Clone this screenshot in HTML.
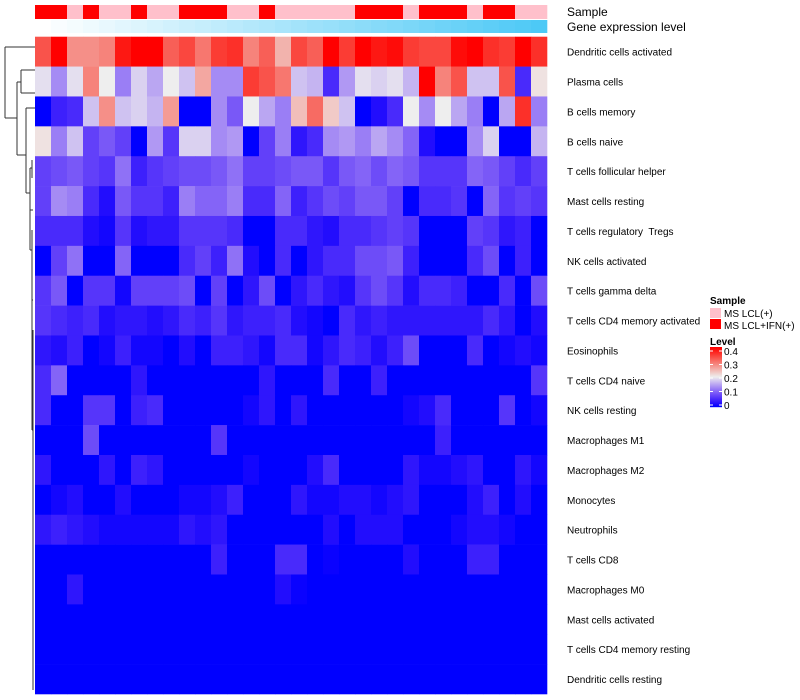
<!DOCTYPE html>
<html><head><meta charset="utf-8"><style>
html,body{margin:0;padding:0;background:#fff;}
svg{display:block;font-family:"Liberation Sans",sans-serif;}
</style></head><body>
<svg id="chart" width="800" height="700"></svg>
<script>
const rowNames = ["Dendritic cells activated","Plasma cells","B cells memory","B cells naive","T cells follicular helper","Mast cells resting","T cells regulatory\u00A0 Tregs","NK cells activated","T cells gamma delta","T cells CD4 memory activated","Eosinophils","T cells CD4 naive","NK cells resting","Macrophages M1","Macrophages M2","Monocytes","Neutrophils","T cells CD8","Macrophages M0","Mast cells activated","T cells CD4 memory resting","Dendritic cells resting"];
const sampleGroups = "RRPRPPRPPRRRPPRPPPPPRRRPRRRPRRPP".split("");
const values = [
[33,40,28,28,29,38,40,40,32,34,30,35,36,29,32,25,34,32,40,35,40,38,39,35,34,34,39,40,36,35,40,36],
[19,13,19,29,20,12,18,15,20,17,26,13,13,35,33,30,17,16,5,14,19,18,19,16,40,29,33,17,17,33,5,21],
[0,4,5,17,28,17,18,16,27,0,0,13,9,20,15,12,24,31,23,17,0,2,5,20,13,20,15,12,0,15,36,12],
[21,12,17,7,9,7,0,14,6,18,18,13,14,0,7,12,3,5,13,14,12,15,13,10,2,0,0,13,18,0,0,16],
[7,8,9,7,6,11,4,6,7,8,8,9,11,7,7,8,9,9,6,9,10,8,10,9,6,6,6,10,9,7,5,7],
[7,13,12,5,2,9,6,6,4,12,10,10,12,5,5,10,4,6,8,7,9,9,7,0,5,5,6,0,10,6,7,6],
[5,5,5,2,1,6,2,3,3,6,6,6,5,0,0,5,5,3,2,5,5,6,7,6,0,0,0,7,6,3,4,0],
[0,7,11,0,0,10,0,0,0,5,7,4,11,2,0,5,0,3,5,5,8,8,9,4,0,0,0,5,8,0,4,0],
[6,9,0,6,6,1,7,7,7,8,0,7,0,3,8,0,3,5,3,2,6,8,6,2,5,5,4,0,0,5,0,8],
[6,5,4,5,2,3,3,2,3,5,4,6,3,4,4,5,2,1,0,5,3,4,3,3,3,3,3,3,5,3,0,2],
[3,2,4,0,1,4,1,1,0,2,0,4,4,3,1,5,5,1,3,5,4,2,4,8,0,0,0,5,0,1,2,1],
[5,10,0,0,0,0,3,0,0,0,0,0,0,0,3,0,0,0,5,0,0,4,0,0,0,0,0,0,0,0,0,6],
[5,0,0,6,6,0,4,5,0,0,0,0,0,1,3,0,3,0,0,0,0,0,0,1,2,5,0,0,0,6,0,1],
[0,0,0,8,0,0,0,0,0,0,0,6,0,0,0,0,0,0,0,0,0,0,0,0,0,4,0,0,0,0,0,0],
[3,0,0,0,3,0,4,3,0,0,0,0,0,1,0,0,0,2,5,0,0,0,0,3,1,1,2,3,0,0,3,1],
[0,1,2,0,0,2,0,0,0,1,1,2,4,0,0,0,3,1,1,2,2,1,2,3,0,0,0,2,4,0,2,0],
[3,4,3,2,1,1,1,1,1,3,2,3,0,0,0,0,0,0,2,0,2,2,2,0,0,0,1,2,2,1,0,0],
[0,0,0,0,0,0,0,0,0,0,0,4,0,0,0,5,5,0,0.5,0,0,0,0,2,0,0,0,4,4,0,0,0],
[0,0,3,0,0,0,0,0,0,0,0,0,0,0,0,2,0.5,0,0,0,0,0,0,0,0,0,0,0,0,0,0,0],
[0,0,0,0,0,0,0,0,0,0,0,0,0,0,0,0,0,0,0,0,0,0,0,0,0,0,0,0,0,0,0,0],
[0,0,0,0,0,0,0,0,0,0,0,0,0,0,0,0,0,0,0,0,0,0,0,0,0,0,0,0,0,0,0,0],
[0,0,0,0,0,0,0,0,0,0,0,0,0,0,0,0,0,0,0,0,0,0,0,0,0,0,0,0,0,0,0,0]
];
const legendTicks = ["0","0.1","0.2","0.3","0.4"];

const NS="http://www.w3.org/2000/svg";
const svg=document.getElementById('chart');
function mk(tag,attrs,parent){const e=document.createElementNS(NS,tag);for(const k in attrs)e.setAttribute(k,attrs[k]);(parent||svg).appendChild(e);return e;}
const X0=35,X1=547,Y0=36.7,Y1=694;
const nCol=values[0].length,nRow=values.length;
const cw=(X1-X0)/nCol, rh=(Y1-Y0)/nRow;
const xPos=i=>X0+i*cw, yPos=j=>Y0+j*rh;
function color(v){ // v in hundredths, 0..40
  const t=Math.max(0,Math.min(1,v/40));
  let r,g,b;
  if(t<0.5){const s=t/0.5;r=238*Math.pow(s,0.85);g=238*Math.pow(s,1.25);b=255-17*s;}
  else{const s=(t-0.5)/0.5;r=238+17*s;g=238*(1-s);b=238*Math.pow(1-s,1.1);}
  return `rgb(${Math.round(r)},${Math.round(g)},${Math.round(b)})`;
}
const sampleColors={R:"#ff0000",P:"#ffc0cb"};
sampleGroups.forEach((s,i)=>{
  const r=mk('rect',{x:xPos(i),y:5,width:cw+0.3,height:14,fill:sampleColors[s]});
  
  
});
for(let i=0;i<nCol;i++){
  const t=i/(nCol-1);
  const c=`rgb(${Math.round(255-178*t)},${Math.round(255-54*t)},${Math.round(255-9*t)})`;
  const r=mk('rect',{x:xPos(i),y:20,width:cw+0.3,height:13,fill:c});
  
  
}
mk('text',{x:567,y:16,'font-size':12},svg).textContent="Sample";
mk('text',{x:567,y:31,'font-size':12},svg).textContent="Gene expression level";
values.forEach((row,j)=>row.forEach((v,i)=>{
  const r=mk('rect',{x:xPos(i),y:yPos(j),width:cw+0.3,height:rh+0.3,fill:color(v)});
  
  
}));
rowNames.forEach((n,j)=>{
  const t=mk('text',{x:567,y:yPos(j)+rh/2+4,'font-size':10});
  t.textContent=n;
  
  
});
const dg=mk('g',{stroke:'#333','stroke-width':1,fill:'none'});


const lines=[
 [5,47,5,118],[5,47,35,47],[5,118,17,118],
 [17,82,17,155],[17,82,21,82],[21,70,21,93],[21,70,35,70],[21,93,35,93],
 [17,155,26,155],[26,108,26,193],[26,108,35,108],[26,193,30,193],
 [30,168,30,250],[30,168,32,168],[32,160,32,178],
 [30,210,33,210],[30,250,32,250],[32,230,32,330],[32,300,33,300],
 [32,330,32,430],[32,430,33,430],[33,330,33,690]
];
lines.forEach(l=>mk('line',{x1:l[0],y1:l[1],x2:l[2],y2:l[3]},dg));
mk('text',{x:710,y:304,'font-size':10,'font-weight':'bold'}).textContent="Sample";
mk('rect',{x:710,y:308,width:11,height:10,fill:"#ffc0cb"});
mk('text',{x:724,y:317,'font-size':10}).textContent="MS LCL(+)";
mk('rect',{x:710,y:319,width:11,height:10,fill:"#ff0000"});
mk('text',{x:724,y:329,'font-size':10}).textContent="MS LCL+IFN(+)";
mk('text',{x:710,y:345,'font-size':10,'font-weight':'bold'}).textContent="Level";
for(let k=0;k<60;k++){
  mk('rect',{x:710,y:347+k,width:12,height:1.2,fill:color(40*(1-k/59))});
}
legendTicks.forEach((t,k)=>{
  const y=405-k*13.5;
  mk('line',{x1:710,y1:y,x2:713,y2:y,stroke:'#fff'});
  mk('line',{x1:719,y1:y,x2:722,y2:y,stroke:'#fff'});
  mk('text',{x:724,y:y+4,'font-size':10}).textContent=t;
});
</script>
</body></html>
